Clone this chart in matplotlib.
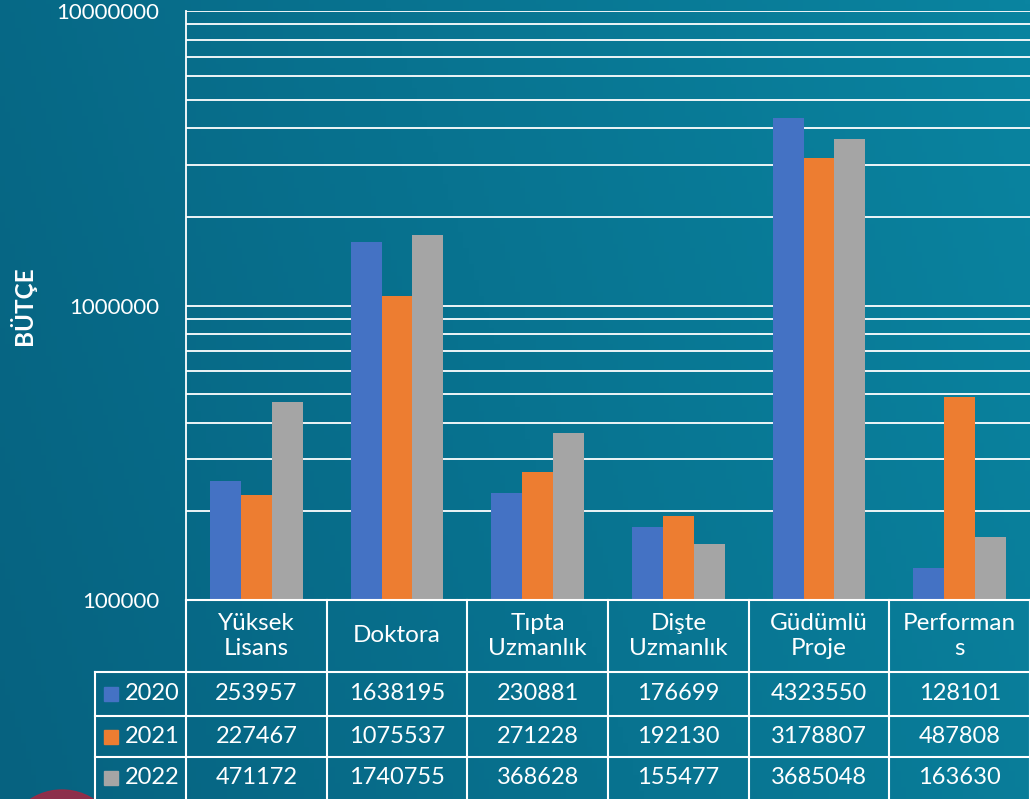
import numpy as np
import matplotlib.pyplot as plt

categories = ['Yüksek\nLisans', 'Doktora', 'Tıpta\nUzmanlık', 'Dişte\nUzmanlık', 'Güdümlü\nProje', 'Performan\ns']
years = ['2020', '2021', '2022']
v2020 = [253957, 1638195, 230881, 176699, 4323550, 128101]
v2021 = [227467, 1075537, 271228, 192130, 3178807, 487808]
v2022 = [471172, 1740755, 368628, 155477, 3685048, 163630]
colors = ['#4472C4', '#ED7D31', '#A5A5A5']
series = [v2020, v2021, v2022]

plt.rcParams['font.family'] = ['Lato', 'DejaVu Sans']
W, H = 1030, 799
fig = plt.figure(figsize=(W / 100, H / 100), dpi=100)

# background gradient
bg = fig.add_axes([0, 0, 1, 1])
xx = np.linspace(0, 1, 200)
yy = np.linspace(0, 1, 200)
X, Y = np.meshgrid(xx, yy)
c0 = np.array([6, 98, 128]) / 255
c1 = np.array([10, 132, 160]) / 255
t = np.clip(0.8 * X + 0.2 * (1 - Y), 0, 1)
img = c0 + (c1 - c0) * t[..., None]
bg.imshow(img, extent=[0, 1, 0, 1], aspect='auto', origin='upper')
bg.axis('off')

left, top, bottom_px = 186, 11, 600
ax = fig.add_axes([left / W, (H - bottom_px) / H, (W - left) / W, (bottom_px - top) / H])
ax.patch.set_alpha(0)
n = len(categories)
x = np.arange(n)
bw = 0.22
for i, (vals, c) in enumerate(zip(series, colors)):
    ax.bar(x + (i - 1) * bw, vals, bw, color=c, zorder=3, label=years[i])
ax.set_yscale('log')
ax.set_ylim(1e5, 1e7)
ax.set_xlim(-0.5, n - 0.5)
ax.grid(True, which='both', axis='y', color='white', lw=1.3, zorder=0)
ax.set_xticks([])
ax.set_yticks([1e5, 1e6, 1e7])
ax.set_yticklabels(['100000', '1000000', '10000000'], color='white', fontsize=16)
ax.tick_params(axis='y', which='both', length=0, pad=19)
ax.minorticks_on()
ax.tick_params(axis='y', which='minor', length=0, labelleft=False)
for s in ['top', 'right', 'bottom']:
    ax.spines[s].set_visible(False)
ax.spines['left'].set_color('white')
ax.spines['left'].set_linewidth(1.3)
ax.set_ylabel('BÜTÇE', color='white', fontsize=17.5, fontweight='bold')
ax.yaxis.set_label_coords(-0.178, 0.5)

# data table in pixel coordinates
tb = fig.add_axes([0, 0, 1, 1])
tb.set_xlim(0, W)
tb.set_ylim(H, 0)
tb.axis('off')
tb.add_patch(plt.Circle((62, 848), 58, color='#9c2a45', alpha=0.9))
colw = (W - left) / n
edges = [left + k * colw for k in range(n + 1)]
leg_left = 95
rows = [600, 672, 716, 757, H]
lw = 1.5
tb.plot([left, W], [rows[0], rows[0]], color='white', lw=lw)
for r in rows[1:4]:
    tb.plot([leg_left, W], [r, r], color='white', lw=lw)
for e in edges:
    tb.plot([e, e], [rows[0], H], color='white', lw=lw)
tb.plot([leg_left, leg_left], [rows[1], H], color='white', lw=lw)
for k, cat in enumerate(categories):
    cx = (edges[k] + edges[k + 1]) / 2
    tb.text(cx, (rows[0] + rows[1]) / 2, cat, color='white', fontsize=17.5,
            ha='center', va='center', linespacing=1.2)
for i, (vals, c) in enumerate(zip(series, colors)):
    cy = (rows[i + 1] + rows[i + 2]) / 2
    tb.add_patch(plt.Rectangle((leg_left + 9, cy - 7), 14, 14, color=c))
    tb.text(leg_left + 30, cy, years[i], color='white', fontsize=17, ha='left', va='center')
    for k, v in enumerate(vals):
        cx = (edges[k] + edges[k + 1]) / 2
        tb.text(cx, cy, str(v), color='white', fontsize=17, ha='center', va='center')

fig.savefig('out.png', dpi=100)
